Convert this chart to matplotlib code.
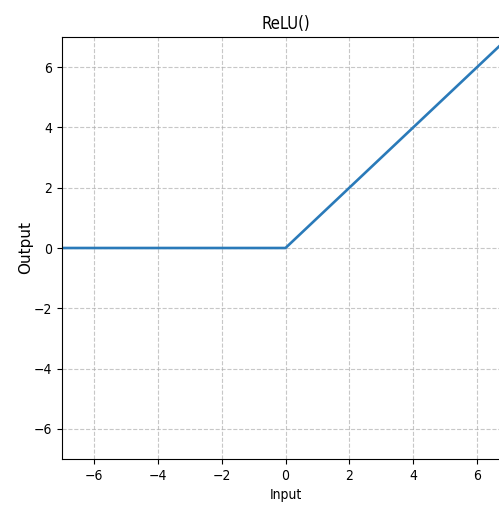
import matplotlib
matplotlib.use("Agg")
import matplotlib.pyplot as plt

x_vals = [-7, 0, 7]
y_vals = [0, 0, 7]
ticks = [-6, -4, -2, 0, 2, 4, 6]

plt.rcParams['font.family'] = ['DejaVu Sans']
plt.rcParams['font.stretch'] = 'condensed'

fig = plt.figure(figsize=(4.99, 5.08), dpi=100)
W, H = 499, 508
left, right, top, bottom = 62, 509, 37, 459
ax = fig.add_axes([left / W, 1 - bottom / H, (right - left) / W, (bottom - top) / H])
ax.plot(x_vals, y_vals, color='#2a7ab9', linewidth=1.9)
ax.set_xlim(-7, 7)
ax.set_ylim(-7, 7)
ax.set_xticks(ticks)
ax.set_yticks(ticks)
ax.grid(True, linestyle='--', color='#b0b0b0', linewidth=0.8, alpha=0.7)
ax.set_title('ReLU()', fontsize=12)
ax.set_xlabel('Input', fontsize=10)
ax.set_ylabel('Output', fontsize=11, fontstretch='normal')
ax.yaxis.set_label_coords((33 - left) / (right - left), 0.5)
ax.tick_params(labelsize=10)
fig.savefig('out.png', dpi=100)
